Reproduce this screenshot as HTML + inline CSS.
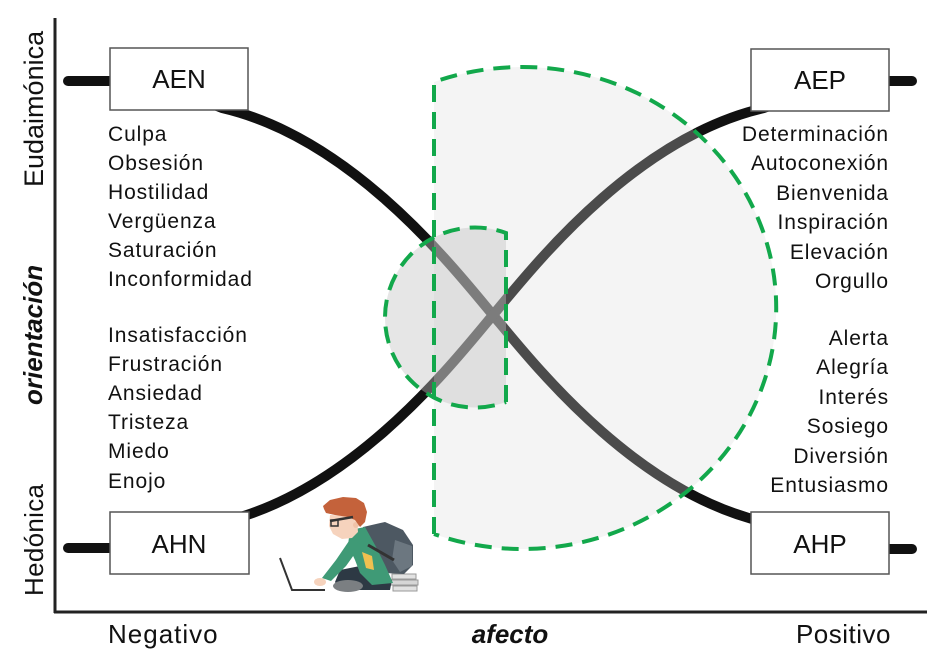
<!DOCTYPE html>
<html>
<head>
<meta charset="utf-8">
<style>
html,body{margin:0;padding:0;background:#fff;}
svg{display:block;}
.lst{font-family:"Liberation Sans",sans-serif;font-size:21px;letter-spacing:0.9px;fill:#111;}
.box{font-family:"Liberation Sans",sans-serif;font-size:26px;fill:#111;}
.ax{font-family:"Liberation Sans",sans-serif;font-size:26px;fill:#111;}
</style>
</head>
<body>
<svg width="948" height="671" viewBox="0 0 948 671" xmlns="http://www.w3.org/2000/svg">
  <rect width="948" height="671" fill="#fff"/>

  <!-- axes -->
  <line x1="55" y1="18" x2="55" y2="613" stroke="#222" stroke-width="3"/>
  <line x1="54" y1="612" x2="927" y2="612" stroke="#222" stroke-width="3"/>

  <!-- stubs -->
  <g stroke="#111" stroke-width="10" stroke-linecap="round">
    <line x1="68" y1="81" x2="114" y2="81"/>
    <line x1="68" y1="548" x2="114" y2="548"/>
    <line x1="886" y1="81" x2="912" y2="81"/>
    <line x1="886" y1="549" x2="912" y2="549"/>
  </g>

  <!-- curves -->
  <g fill="none" stroke="#111" stroke-width="10">
    <path d="M212,104 L222,108 C352,138 453,267 493,315 C533,363 634,492 764,522 L775,527"/>
    <path d="M212,527 L222,522 C352,492 453,363 493,315 C533,267 634,138 764,108 L775,104"/>
  </g>

  <!-- big region fill -->
  <path d="M434,82 L434,534 A254,241 0 1 0 434,82 Z" fill="rgba(217,217,217,0.29)"/>
  <!-- small region fill -->
  <path d="M506,233 L506,402 A90,90 0 1 1 506,233 Z" fill="rgba(195,195,195,0.41)"/>

  <!-- dashed outlines -->
  <g fill="none" stroke="#12a84b" stroke-width="4" stroke-dasharray="17 10">
    <path d="M434,534 L434,82 A254,241 0 1 1 434,534"/>
    <path d="M506,402 L506,233 A90,90 0 1 0 506,402"/>
  </g>

  <!-- boxes -->
  <g fill="#fff" stroke="#555" stroke-width="1.5">
    <rect x="110" y="48" width="138" height="62"/>
    <rect x="751" y="49" width="138" height="62"/>
    <rect x="110" y="512" width="139" height="62"/>
    <rect x="751" y="512" width="138" height="62"/>
  </g>
  <g class="box" text-anchor="middle">
    <text x="179" y="88">AEN</text>
    <text x="820" y="89">AEP</text>
    <text x="179" y="553">AHN</text>
    <text x="820" y="553">AHP</text>
  </g>

  <!-- left lists -->
  <g class="lst">
    <text x="108" y="141">Culpa</text>
    <text x="108" y="170">Obsesión</text>
    <text x="108" y="199">Hostilidad</text>
    <text x="108" y="228">Vergüenza</text>
    <text x="108" y="257">Saturación</text>
    <text x="108" y="286">Inconformidad</text>
    <text x="108" y="342">Insatisfacción</text>
    <text x="108" y="371">Frustración</text>
    <text x="108" y="400">Ansiedad</text>
    <text x="108" y="429">Tristeza</text>
    <text x="108" y="458">Miedo</text>
    <text x="108" y="488">Enojo</text>
  </g>

  <!-- right lists -->
  <g class="lst" text-anchor="end">
    <text x="889" y="141">Determinación</text>
    <text x="889" y="170">Autoconexión</text>
    <text x="889" y="200">Bienvenida</text>
    <text x="889" y="229">Inspiración</text>
    <text x="889" y="259">Elevación</text>
    <text x="889" y="288">Orgullo</text>
    <text x="889" y="345">Alerta</text>
    <text x="889" y="374">Alegría</text>
    <text x="889" y="404">Interés</text>
    <text x="889" y="433">Sosiego</text>
    <text x="889" y="463">Diversión</text>
    <text x="889" y="492">Entusiasmo</text>
  </g>

  <!-- axis labels -->
  <text class="ax" x="108" y="643" style="letter-spacing:1px">Negativo</text>
  <text class="ax" x="510" y="643" text-anchor="middle" font-weight="bold" font-style="italic">afecto</text>
  <text class="ax" x="891" y="643" text-anchor="end" style="letter-spacing:0.5px">Positivo</text>

  <text class="ax" transform="translate(43,187) rotate(-90)" style="font-size:27px">Eudaimónica</text>
  <text class="ax" transform="translate(42,405) rotate(-90)" font-weight="bold" font-style="italic">orientación</text>
  <text class="ax" transform="translate(43,596) rotate(-90)" style="letter-spacing:0.3px">Hedónica</text>

  <!-- student illustration -->
  <g>
    <polyline points="280,558 292,590 325,590" fill="none" stroke="#333" stroke-width="2"/>
    <!-- books -->
    <rect x="392" y="574" width="24" height="5" fill="#e2e2e2" stroke="#999" stroke-width="1"/>
    <rect x="390" y="580" width="28" height="5" fill="#d6d6d6" stroke="#999" stroke-width="1"/>
    <rect x="393" y="586" width="24" height="5" fill="#e2e2e2" stroke="#999" stroke-width="1"/>
    <!-- backpack -->
    <polygon points="363,527 385,522 403,530 413,545 413,565 404,574 385,573 370,560" fill="#4d5862"/>
    <polygon points="395,540 412,546 412,566 400,572 392,560" fill="#6c7780"/>
    <!-- legs -->
    <polygon points="340,570 360,566 380,572 392,580 390,590 340,590 335,582" fill="#2d3944"/>
    <!-- shirt -->
    <polygon points="350,530 365,527 375,545 385,565 393,583 372,585 360,573 355,560 348,545" fill="#3f9a76"/>
    <polygon points="362,552 372,556 374,570 366,568" fill="#f0c050"/>
    <line x1="368" y1="545" x2="394" y2="560" stroke="#333" stroke-width="3"/>
    <!-- arm -->
    <polygon points="351,538 361,545 346,566 331,581 322,578 336,560" fill="#3f9a76"/>
    <ellipse cx="320" cy="582" rx="6" ry="4" fill="#f6d3bd"/>
    <!-- shoe -->
    <ellipse cx="348" cy="586" rx="15" ry="6" fill="#7b7f82"/>
    <!-- face -->
    <polygon points="330,515 350,516 357,520 358,532 352,538 342,539 333,534 329,526" fill="#f6d3bd"/>
    <circle cx="356" cy="525" r="3" fill="#f0c3a8"/>
    <!-- hair -->
    <polygon points="323,506 330,500 343,497 356,498 364,503 367,512 365,522 360,527 355,520 348,517 335,515 326,513 324,509" fill="#c4623b"/>
    <!-- glasses -->
    <line x1="330" y1="521" x2="353" y2="517" stroke="#333" stroke-width="2.5"/>
    <rect x="331" y="520" width="7" height="6" fill="none" stroke="#333" stroke-width="1.5"/>
  </g>
</svg>
</body>
</html>
